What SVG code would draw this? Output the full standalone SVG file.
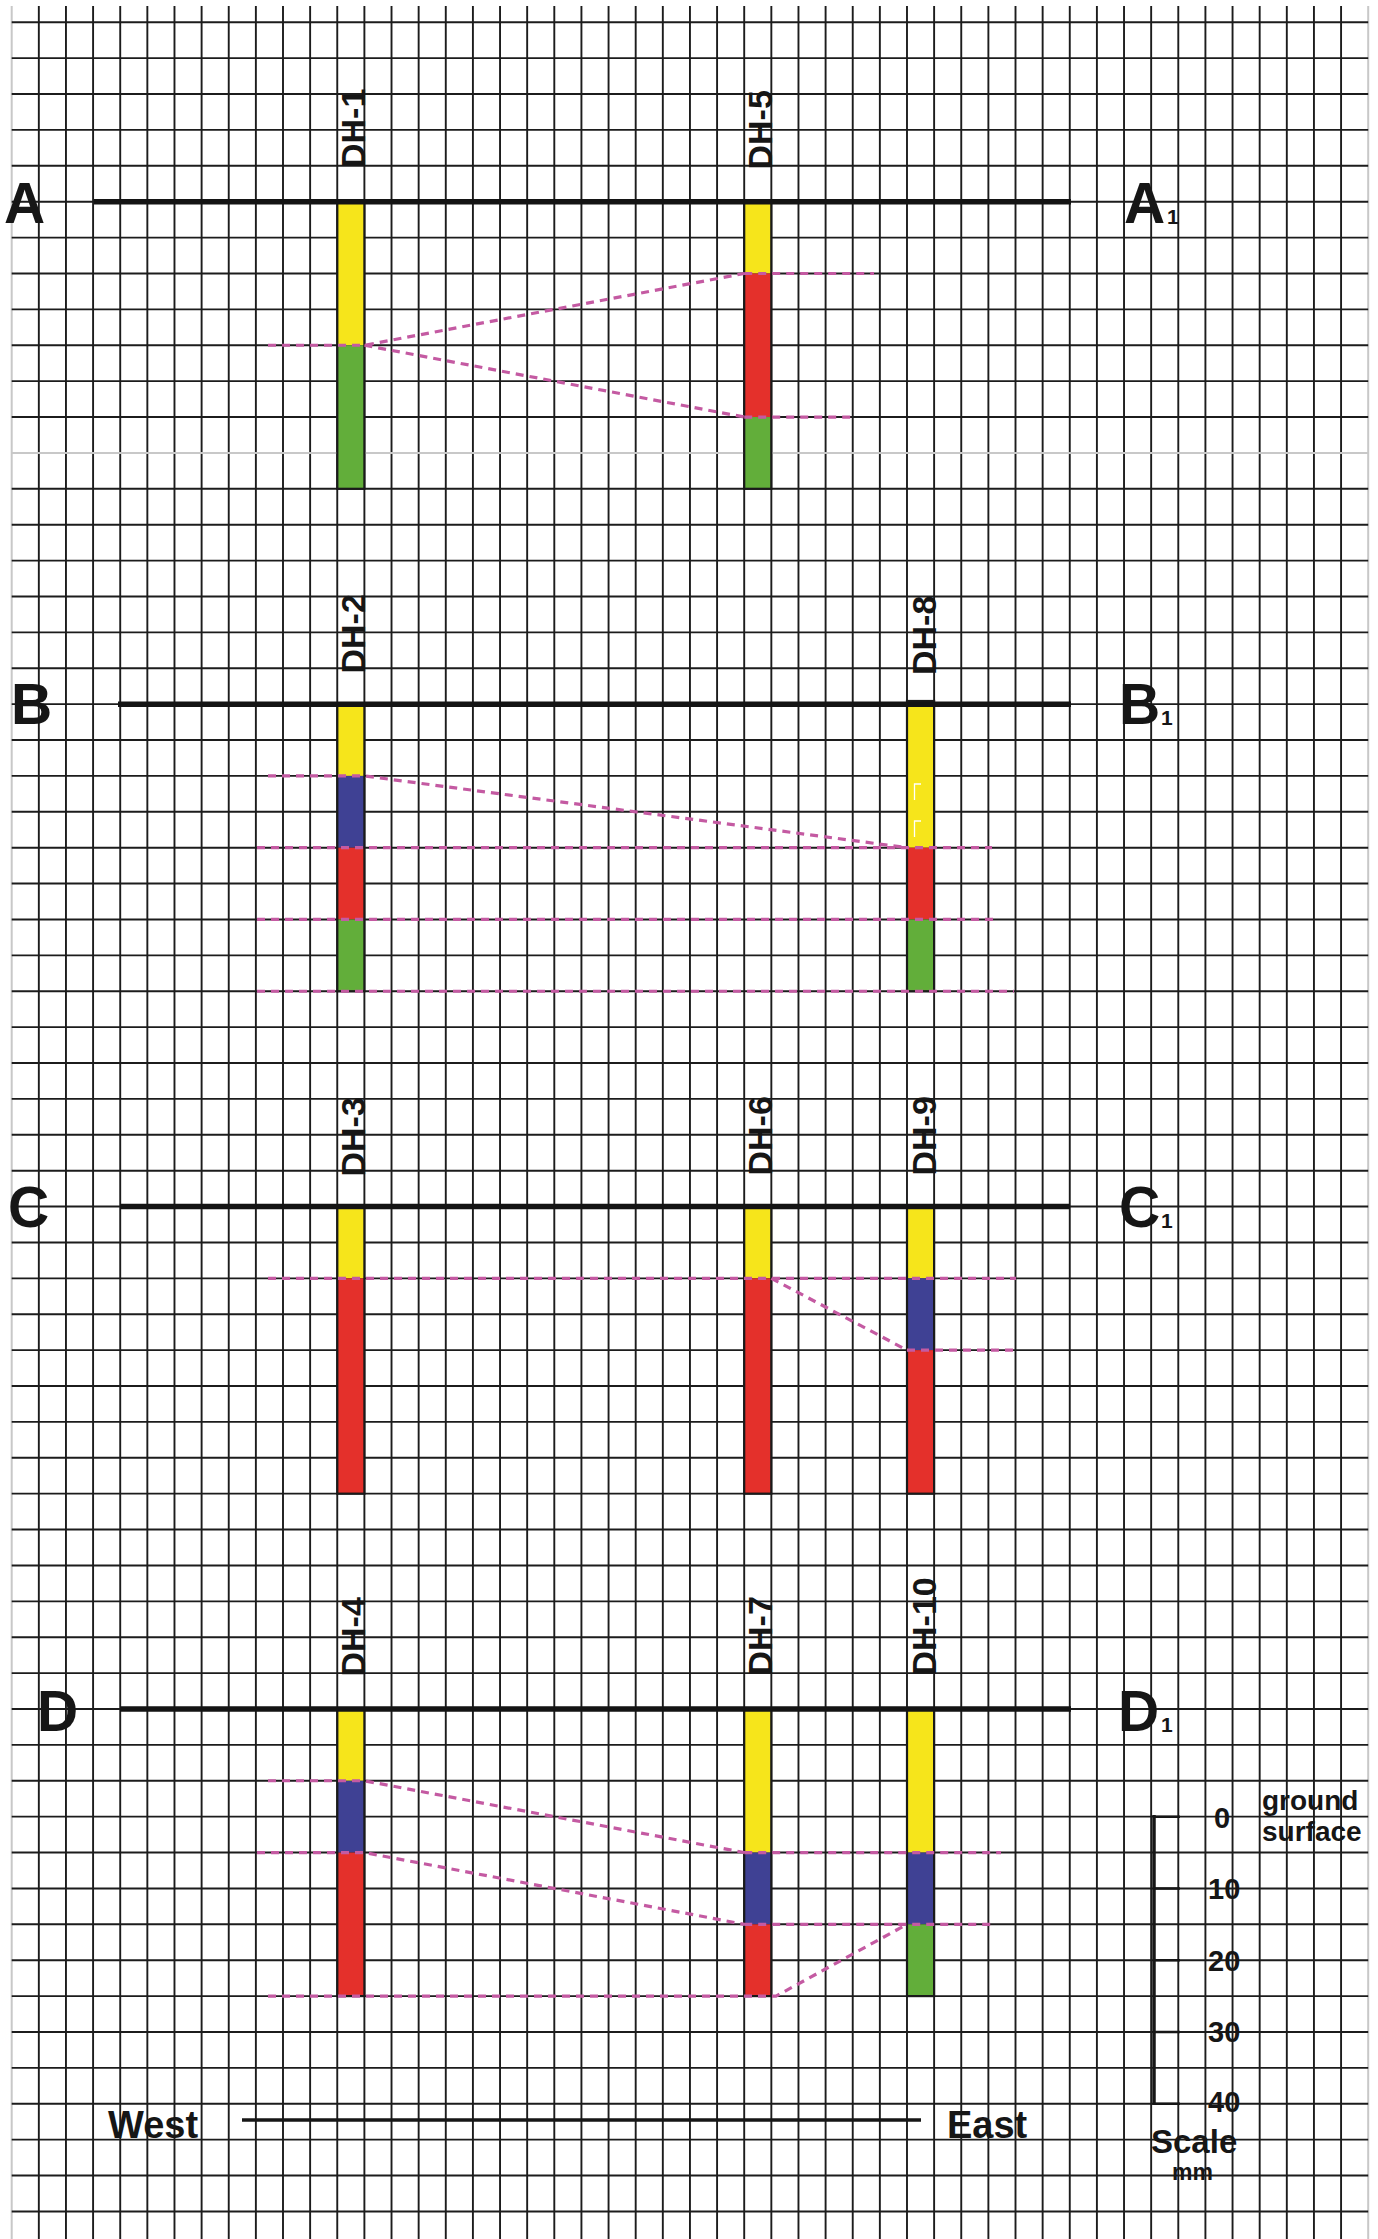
<svg xmlns="http://www.w3.org/2000/svg" width="1378" height="2239" viewBox="0 0 1378 2239">
<style>
.grid{stroke:#1c1c1c;stroke-width:1.9;fill:none}
.gridlight{stroke:#c8c8c8;stroke-width:2;fill:none}
.ground{stroke:#141414;stroke-width:5.5;fill:none}
.dash{stroke:#c45aa2;stroke-width:3.2;fill:none;stroke-dasharray:8 6}
.outline{fill:none;stroke:#1a1a1a;stroke-width:2.2}
.y{fill:#f6e51b}.r{fill:#e4302b}.g{fill:#62ae3a}.b{fill:#3f4194}
.big{font-family:"Liberation Sans",Arial,sans-serif;font-weight:bold;font-size:57px;fill:#161616}
.sub{font-family:"Liberation Sans",Arial,sans-serif;font-weight:bold;font-size:21px;fill:#161616}
.dh{font-family:"Liberation Sans",Arial,sans-serif;font-weight:bold;font-size:34px;fill:#161616}
.lbl{font-family:"Liberation Sans",Arial,sans-serif;font-weight:bold;fill:#161616}
</style>
<rect x="0" y="0" width="1378" height="2239" fill="#ffffff"/>
<g id="grid">
<path class="gridlight" d="M11.7,6V2239M1368.2,6V2239"/>
<path class="grid" d="M38.83,6V2239M65.96,6V2239M93.09,6V2239M120.22,6V2239M147.35,6V2239M174.48,6V2239M201.61,6V2239M228.74,6V2239M255.87,6V2239M283,6V2239M310.13,6V2239M337.26,6V2239M364.39,6V2239M391.52,6V2239M418.65,6V2239M445.78,6V2239M472.91,6V2239M500.04,6V2239M527.17,6V2239M554.3,6V2239M581.43,6V2239M608.56,6V2239M635.69,6V2239M662.82,6V2239M689.95,6V2239M717.08,6V2239M744.21,6V2239M771.34,6V2239M798.47,6V2239M825.6,6V2239M852.73,6V2239M879.86,6V2239M906.99,6V2239M934.12,6V2239M961.25,6V2239M988.38,6V2239M1015.51,6V2239M1042.64,6V2239M1069.77,6V2239M1096.9,6V2239M1124.03,6V2239M1151.16,6V2239M1178.29,6V2239M1205.42,6V2239M1232.55,6V2239M1259.68,6V2239M1286.81,6V2239M1313.94,6V2239M1341.07,6V2239"/>
<path class="grid" d="M11.7,22.26H1368.2M11.7,58.15H1368.2M11.7,94.04H1368.2M11.7,129.92H1368.2M11.7,165.81H1368.2M11.7,201.7H1368.2M11.7,237.59H1368.2M11.7,273.48H1368.2M11.7,309.36H1368.2M11.7,345.25H1368.2M11.7,381.14H1368.2M11.7,417.03H1368.2M11.7,488.8H1368.2M11.7,524.69H1368.2M11.7,560.58H1368.2M11.7,596.47H1368.2M11.7,632.36H1368.2M11.7,668.24H1368.2M11.7,704.13H1368.2M11.7,740.02H1368.2M11.7,775.91H1368.2M11.7,811.8H1368.2M11.7,847.68H1368.2M11.7,883.57H1368.2M11.7,919.46H1368.2M11.7,955.35H1368.2M11.7,991.24H1368.2M11.7,1027.12H1368.2M11.7,1063.01H1368.2M11.7,1098.9H1368.2M11.7,1134.79H1368.2M11.7,1170.68H1368.2M11.7,1206.56H1368.2M11.7,1242.45H1368.2M11.7,1278.34H1368.2M11.7,1314.23H1368.2M11.7,1350.12H1368.2M11.7,1386H1368.2M11.7,1421.89H1368.2M11.7,1457.78H1368.2M11.7,1493.67H1368.2M11.7,1529.56H1368.2M11.7,1565.44H1368.2M11.7,1601.33H1368.2M11.7,1637.22H1368.2M11.7,1673.11H1368.2M11.7,1709H1368.2M11.7,1744.88H1368.2M11.7,1780.77H1368.2M11.7,1816.66H1368.2M11.7,1852.55H1368.2M11.7,1888.44H1368.2M11.7,1924.32H1368.2M11.7,1960.21H1368.2M11.7,1996.1H1368.2M11.7,2031.99H1368.2M11.7,2067.88H1368.2M11.7,2103.76H1368.2M11.7,2139.65H1368.2M11.7,2175.54H1368.2M11.7,2211.43H1368.2"/>
<path class="gridlight" d="M11.7,452.92H1368.2"/>
</g>

<g id="DH-1">
<rect class="y" x="337.3" y="201.7" width="27.1" height="143.55"/>
<rect class="g" x="337.3" y="345.25" width="27.1" height="143.55"/>
<rect class="outline" x="337.3" y="201.7" width="27.1" height="287.1"/>
<text class="dh" transform="translate(365,168) rotate(-90)">DH-1</text>
</g>
<g id="DH-5">
<rect class="y" x="744.2" y="201.7" width="27.1" height="71.78"/>
<rect class="r" x="744.2" y="273.48" width="27.1" height="143.55"/>
<rect class="g" x="744.2" y="417.03" width="27.1" height="71.77"/>
<rect class="outline" x="744.2" y="201.7" width="27.1" height="287.1"/>
<text class="dh" transform="translate(771.5,169.5) rotate(-90)">DH-5</text>
</g>

<g id="DH-2">
<rect class="y" x="337.3" y="704.13" width="27.1" height="71.78"/>
<rect class="b" x="337.3" y="775.91" width="27.1" height="71.77"/>
<rect class="r" x="337.3" y="847.68" width="27.1" height="71.78"/>
<rect class="g" x="337.3" y="919.46" width="27.1" height="71.78"/>
<rect class="outline" x="337.3" y="704.13" width="27.1" height="287.11"/>
<text class="dh" transform="translate(365,673.5) rotate(-90)">DH-2</text>
</g>
<g id="DH-8">
<rect class="y" x="907" y="701" width="27.1" height="146.68"/>
<rect class="r" x="907" y="847.68" width="27.1" height="71.78"/>
<rect class="g" x="907" y="919.46" width="27.1" height="71.78"/>
<rect class="outline" x="907" y="701" width="27.1" height="290.24"/>
<path d="M921,784H914.5V800M921,821H914.5V837" fill="none" stroke="#ffffff" stroke-width="1.3"/>
<text class="dh" transform="translate(935.5,675) rotate(-90)">DH-8</text>
</g>

<g id="DH-3">
<rect class="y" x="337.3" y="1206.56" width="27.1" height="71.78"/>
<rect class="r" x="337.3" y="1278.34" width="27.1" height="215.33"/>
<rect class="outline" x="337.3" y="1206.56" width="27.1" height="287.11"/>
<text class="dh" transform="translate(365,1176.5) rotate(-90)">DH-3</text>
</g>
<g id="DH-6">
<rect class="y" x="744.2" y="1206.56" width="27.1" height="71.78"/>
<rect class="r" x="744.2" y="1278.34" width="27.1" height="215.33"/>
<rect class="outline" x="744.2" y="1206.56" width="27.1" height="287.11"/>
<text class="dh" transform="translate(771.5,1175.5) rotate(-90)">DH-6</text>
</g>
<g id="DH-9">
<rect class="y" x="907" y="1206.56" width="27.1" height="71.78"/>
<rect class="b" x="907" y="1278.34" width="27.1" height="71.78"/>
<rect class="r" x="907" y="1350.12" width="27.1" height="143.55"/>
<rect class="outline" x="907" y="1206.56" width="27.1" height="287.11"/>
<text class="dh" transform="translate(935.5,1175.5) rotate(-90)">DH-9</text>
</g>

<g id="DH-4">
<rect class="y" x="337.3" y="1709" width="27.1" height="71.77"/>
<rect class="b" x="337.3" y="1780.77" width="27.1" height="71.78"/>
<rect class="r" x="337.3" y="1852.55" width="27.1" height="143.55"/>
<rect class="outline" x="337.3" y="1709" width="27.1" height="287.1"/>
<text class="dh" transform="translate(365,1676.5) rotate(-90)">DH-4</text>
</g>
<g id="DH-7">
<rect class="y" x="744.2" y="1709" width="27.1" height="143.55"/>
<rect class="b" x="744.2" y="1852.55" width="27.1" height="71.77"/>
<rect class="r" x="744.2" y="1924.32" width="27.1" height="71.78"/>
<rect class="outline" x="744.2" y="1709" width="27.1" height="287.1"/>
<text class="dh" transform="translate(771.5,1675.5) rotate(-90)">DH-7</text>
</g>
<g id="DH-10">
<rect class="y" x="907" y="1709" width="27.1" height="143.55"/>
<rect class="b" x="907" y="1852.55" width="27.1" height="71.77"/>
<rect class="g" x="907" y="1924.32" width="27.1" height="71.78"/>
<rect class="outline" x="907" y="1709" width="27.1" height="287.1"/>
<text class="dh" transform="translate(935.5,1675.5) rotate(-90)">DH-10</text>
</g>

<g id="sections">
<path class="ground" d="M94,201.7H1071M118,704.13H1071M120,1206.56H1070M120,1709H1071"/>
<text class="big" x="4" y="223">A</text>
<text class="big" x="1124" y="223">A</text><text class="sub" x="1167" y="224">1</text>
<text class="big" x="11" y="724">B</text>
<text class="big" x="1119" y="724">B</text><text class="sub" x="1161" y="725">1</text>
<text class="big" x="8" y="1227">C</text>
<text class="big" x="1119" y="1227">C</text><text class="sub" x="1161" y="1228">1</text>
<text class="big" x="37" y="1731">D</text>
<text class="big" x="1118" y="1731">D</text><text class="sub" x="1161" y="1732">1</text>
</g>

<g id="connectors">
<path class="dash" d="M268,345.25H364.4L744.2,273.48M364.4,345.25L744.2,417.03M744.2,273.48H874M744.2,417.03H851"/>
<path class="dash" d="M268,775.91H364.4L907,847.68M257,847.68H992M257,919.46H997M257,991.24H1014"/>
<path class="dash" d="M268,1278.34H1016M771.3,1278.34L907,1350.12M907,1350.12H1018"/>
<path class="dash" d="M268,1780.77H364.4L744.2,1852.55M257,1852.55H364.4L744.2,1924.32M744.2,1852.55H1001M744.2,1924.32H994M268,1996.1H776L907,1924.32"/>
</g>

<g id="orientation">
<path d="M242,2120H921" stroke="#161616" stroke-width="3.5" fill="none"/>
<text class="lbl" x="108" y="2138" font-size="38">West</text>
<text class="lbl" x="947" y="2138" font-size="38">East</text>
</g>

<g id="scale">
<path d="M1154,1815V2105" stroke="#161616" stroke-width="3.5" fill="none"/>
<path d="M1154,1816.66H1180M1154,1888.44H1180M1154,1960.21H1180M1154,2031.99H1180M1154,2103.76H1180" stroke="#161616" stroke-width="2.5" fill="none"/>
<text class="lbl" x="1214" y="1828" font-size="29">0</text>
<text class="lbl" x="1208" y="1899" font-size="29">10</text>
<text class="lbl" x="1208" y="1971" font-size="29">20</text>
<text class="lbl" x="1208" y="2042" font-size="29">30</text>
<text class="lbl" x="1208" y="2112" font-size="29">40</text>
<text class="lbl" x="1262" y="1810" font-size="28">ground</text>
<text class="lbl" x="1262" y="1841" font-size="28">surface</text>
<text class="lbl" x="1151" y="2153" font-size="33">Scale</text>
<text class="lbl" x="1172" y="2180" font-size="23">mm</text>
</g>
</svg>
